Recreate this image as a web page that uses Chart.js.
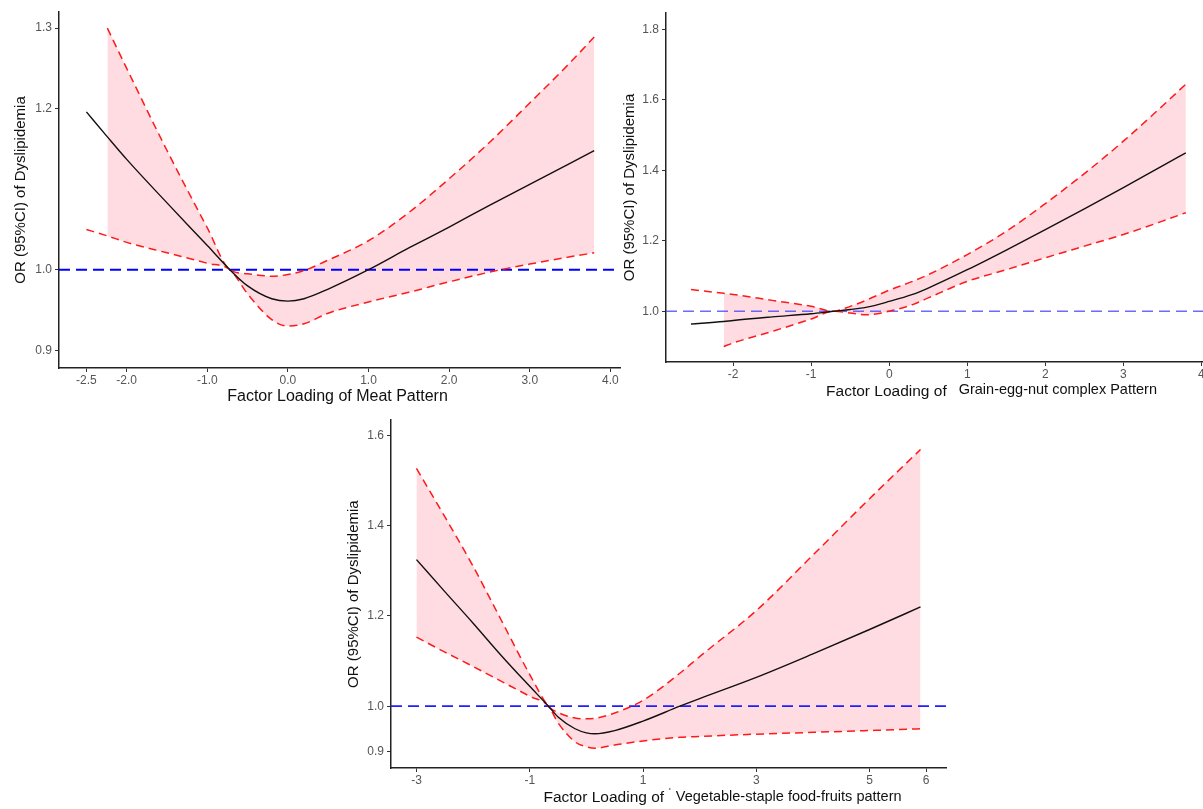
<!DOCTYPE html>
<html>
<head>
<meta charset="utf-8">
<script src="https://cdn.jsdelivr.net/npm/chart.js@4.4.1/dist/chart.umd.min.js"></script>
<style>
  html, body { margin: 0; padding: 0; background: #fff; overflow: hidden; width: 1203px; height: 809px; }
  canvas { position: absolute; }
</style>
</head>
<body>
<canvas id="meat" style="left:0;top:0" width="622" height="410"></canvas>
<canvas id="grain" style="left:610px;top:0" width="620" height="410"></canvas>
<canvas id="veg" style="left:330px;top:410px" width="640" height="399"></canvas>
<script>
// reference OR line
const refOR = 1.0;

// Meat pattern
const meatX     = [-2.5, -2.24, -2.0, -1.5, -1.0, -0.72, -0.5, -0.2, 0.0, 0.2, 0.5, 1.0, 1.5, 2.0, 2.5, 3.0, 3.5, 3.8];
const meatOR    = [1.196, 1.165, 1.137, 1.083, 1.030, 1.0, 0.980, 0.964, 0.961, 0.964, 0.976, 1.0, 1.027, 1.053, 1.080, 1.106, 1.132, 1.148];
const meatUpper = [null, 1.300, 1.250, 1.148, 1.052, 1.0, 0.995, 0.992, 0.994, 0.999, 1.012, 1.036, 1.071, 1.113, 1.158, 1.207, 1.257, 1.289];
const meatLower = [1.050, 1.042, 1.034, 1.021, 1.008, 1.0, 0.970, 0.938, 0.930, 0.933, 0.946, 0.960, 0.972, 0.985, 0.997, 1.007, 1.016, 1.021];
const meatXTicks = [-2.5, -2.0, -1.0, 0.0, 1.0, 2.0, 3.0, 4.0];
const meatYTicks = [0.9, 1.0, 1.2, 1.3];

// Grain-egg-nut complex pattern
const grainX     = [-2.54, -2.12, -2.0, -1.5, -1.0, -0.72, -0.5, -0.3, 0.0, 0.3, 0.5, 1.0, 1.5, 2.0, 2.5, 3.0, 3.5, 3.8];
const grainOR    = [0.964, 0.971, 0.974, 0.984, 0.993, 1.0, 1.005, 1.011, 1.028, 1.048, 1.066, 1.118, 1.174, 1.232, 1.291, 1.351, 1.413, 1.450];
const grainUpper = [1.062, 1.051, 1.048, 1.031, 1.014, 1.0, 1.014, 1.031, 1.060, 1.085, 1.104, 1.161, 1.227, 1.306, 1.391, 1.483, 1.583, 1.645];
const grainLower = [null, 0.900, 0.910, 0.943, 0.978, 1.0, 0.995, 0.990, 1.000, 1.019, 1.038, 1.085, 1.118, 1.152, 1.185, 1.218, 1.256, 1.280];
const grainXTicks = [-2, -1, 0, 1, 2, 3, 4];
const grainYTicks = [1.0, 1.2, 1.4, 1.6, 1.8];

// Vegetable-staple food-fruits pattern
const vegX     = [-3, -2.5, -2, -1.5, -1, -0.67, -0.5, -0.2, 0, 0.15, 0.5, 1, 1.65, 2, 3, 4, 5, 5.9];
const vegOR    = [1.325, 1.254, 1.184, 1.112, 1.044, 1.0, 0.976, 0.950, 0.941, 0.939, 0.946, 0.967, 1.0, 1.017, 1.064, 1.116, 1.170, 1.220];
const vegUpper = [1.527, 1.420, 1.310, 1.190, 1.070, 1.0, 0.986, 0.974, 0.972, 0.973, 0.985, 1.013, 1.073, 1.110, 1.212, 1.335, 1.460, 1.569];
const vegLower = [1.153, 1.120, 1.088, 1.055, 1.022, 1.0, 0.963, 0.921, 0.910, 0.907, 0.914, 0.923, 0.931, 0.933, 0.938, 0.942, 0.946, 0.950];
const vegXTicks = [-3, -1, 1, 3, 5, 6];
const vegYTicks = [0.9, 1.0, 1.2, 1.4, 1.6];

const FONT = "'Liberation Sans', Arial, sans-serif";
const yTitle = 'OR (95%CI) of Dyslipidemia';

const toPoints = (xs, ys) => xs.map((x, i) => ({ x, y: ys[i] })).filter(p => p.y != null);

// x-axis title drawn in pieces (the source mixes two fonts)
const xTitlePlugin = {
  id: 'xTitle',
  afterDraw(chart, args, opts) {
    if (!opts.parts) return;
    const { ctx, chartArea } = chart;
    ctx.save();
    ctx.fillStyle = '#111';
    ctx.textBaseline = 'middle';
    ctx.textAlign = 'left';
    let total = 0;
    opts.parts.forEach((p, i) => {
      ctx.font = p.font;
      total += ctx.measureText(p.text).width + (i ? opts.gap : 0);
    });
    let x = (chartArea.left + chartArea.right) / 2 + opts.dx - total / 2;
    opts.parts.forEach((p, i) => {
      ctx.font = p.font;
      if (i) x += opts.gap;
      ctx.fillText(p.text, x, opts.y + (p.dy || 0));
      x += ctx.measureText(p.text).width;
    });
    ctx.restore();
  },
};

function makePanel(id, p) {
  const canvas = document.getElementById(id);
  // the pink band only covers x where both limits exist
  const inBand = i => p.upper[i] != null && p.lower[i] != null;
  const bandLow = p.x.map((x, i) => (inBand(i) ? p.lower[i] : null));
  const bandHigh = p.x.map((x, i) => (inBand(i) ? p.upper[i] : null));

  new Chart(canvas, { // eslint-disable-line no-new
    type: 'line',
    data: {
      datasets: [
        {
          data: toPoints(p.x, p.or),
          borderColor: '#111',
          borderWidth: 1.4,
          pointRadius: 0,
          cubicInterpolationMode: 'monotone',
          fill: false,
        },
        {
          data: toPoints(p.x, p.upper),
          borderColor: '#ff1a1a',
          borderWidth: 1.5,
          borderDash: [8, 5],
          pointRadius: 0,
          cubicInterpolationMode: 'monotone',
          fill: false,
        },
        {
          data: toPoints(p.x, p.lower),
          borderColor: '#ff1a1a',
          borderWidth: 1.5,
          borderDash: [8, 5],
          pointRadius: 0,
          cubicInterpolationMode: 'monotone',
          fill: false,
        },
        {
          data: [{ x: p.xMin, y: refOR }, { x: p.xMax, y: refOR }],
          borderColor: p.refColor,
          borderWidth: p.refWidth,
          borderDash: [11, 6],
          pointRadius: 0,
          fill: false,
        },
        {
          data: toPoints(p.x, bandLow),
          borderWidth: 0,
          pointRadius: 0,
          cubicInterpolationMode: 'monotone',
          fill: false,
        },
        {
          data: toPoints(p.x, bandHigh),
          borderWidth: 0,
          pointRadius: 0,
          cubicInterpolationMode: 'monotone',
          backgroundColor: 'rgba(255, 190, 202, 0.55)',
          fill: '-1',
        },
      ],
    },
    options: {
      responsive: false,
      animation: false,
      events: [],
      layout: {
        padding: { left: 0, bottom: 0, top: p.plot.top, right: canvas.width - p.plot.right },
      },
      plugins: {
        legend: { display: false },
        tooltip: { enabled: false },
        xTitle: p.xTitle,
      },
      scales: {
        x: {
          type: 'linear',
          min: p.xMin,
          max: p.xMax,
          afterBuildTicks: (s) => { s.ticks = p.xTicks.map(v => ({ value: v })); },
          afterFit: (s) => { s.height = canvas.height - p.plot.bottom; },
          grid: { drawOnChartArea: false, tickLength: 4, tickColor: '#333', tickWidth: 1 },
          border: { color: '#222', width: 1.5 },
          ticks: {
            autoSkip: false,
            maxRotation: 0,
            padding: 1,
            color: '#555',
            font: { family: FONT, size: 12 },
            callback: p.xFmt,
          },
        },
        y: {
          type: 'linear',
          min: p.yMin,
          max: p.yMax,
          afterBuildTicks: (s) => { s.ticks = p.yTicks.map(v => ({ value: v })); },
          afterFit: (s) => { s.width = p.plot.left; },
          grid: { drawOnChartArea: false, tickLength: 4, tickColor: '#333', tickWidth: 1 },
          border: { color: '#222', width: 1.5 },
          ticks: {
            padding: 3,
            color: '#555',
            font: { family: FONT, size: 12 },
            callback: v => v.toFixed(1),
          },
          title: {
            display: true,
            text: yTitle,
            color: '#111',
            font: { family: FONT, size: 15 },
            padding: { top: p.yTitlePad, bottom: 0 },
          },
        },
      },
    },
    plugins: [xTitlePlugin],
  });
}

makePanel('meat', {
  x: meatX, or: meatOR, upper: meatUpper, lower: meatLower,
  xTicks: meatXTicks, yTicks: meatYTicks,
  xMin: -2.84, xMax: 4.12, yMin: 0.878, yMax: 1.32,
  xFmt: v => v.toFixed(1),
  plot: { left: 59, right: 620, top: 12, bottom: 368 },
  refColor: '#0000ff', refWidth: 2,
  yTitlePad: 12,
  xTitle: {
    dx: -2, y: 397, gap: 0,
    parts: [{ text: 'Factor Loading of Meat Pattern', font: `16px ${FONT}` }],
  },
});

makePanel('grain', {
  x: grainX, or: grainOR, upper: grainUpper, lower: grainLower,
  xTicks: grainXTicks, yTicks: grainYTicks,
  xMin: -2.86, xMax: 4.02, yMin: 0.856, yMax: 1.847,
  xFmt: v => String(v),
  plot: { left: 56, right: 593, top: 13, bottom: 362 },
  refColor: 'rgba(70, 70, 255, 0.8)', refWidth: 1.6,
  yTitlePad: 11,
  xTitle: {
    dx: 57, y: 392, gap: 12,
    parts: [
      { text: 'Factor Loading of', font: `15.5px ${FONT}` },
      { text: 'Grain-egg-nut complex Pattern', font: `14.5px ${FONT}`, dy: -2 },
    ],
  },
});

makePanel('veg', {
  x: vegX, or: vegOR, upper: vegUpper, lower: vegLower,
  xTicks: vegXTicks, yTicks: vegYTicks,
  xMin: -3.45, xMax: 6.35, yMin: 0.863, yMax: 1.634,
  xFmt: v => String(v),
  plot: { left: 61, right: 616, top: 3, bottom: 358 },
  refColor: '#1f1fff', refWidth: 1.8,
  yTitlePad: 15,
  xTitle: {
    dx: 54, y: 388, gap: 5,
    parts: [
      { text: 'Factor Loading of', font: `15.5px ${FONT}` },
      { text: "'", font: `9px ${FONT}`, dy: -6 },
      { text: 'Vegetable-staple food-fruits pattern', font: `14.5px ${FONT}`, dy: -1 },
    ],
  },
});
</script>
</body>
</html>
